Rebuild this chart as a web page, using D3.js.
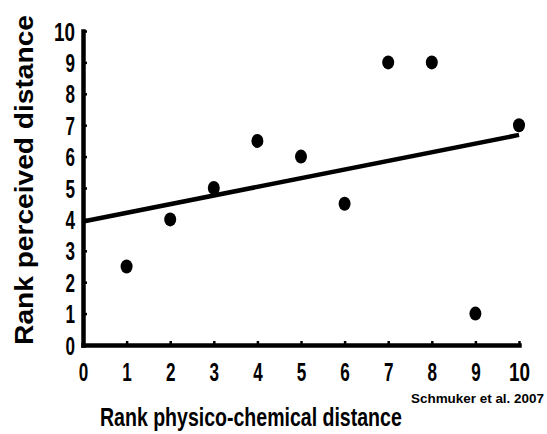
<!DOCTYPE html>
<html><head><meta charset="utf-8">
<script src="https://cdn.jsdelivr.net/npm/d3@7"></script>
<style>
html,body{margin:0;padding:0;background:#fff;}
svg{display:block;}
</style></head>
<body>
<svg id="c" width="547" height="434"></svg>
<script>
const xValues = [1, 2, 3, 4, 5, 6, 7, 8, 9, 10];
const yValues = [2.5, 4, 5, 6.5, 6, 4.5, 9, 9, 1, 7];
const xTicks = [0, 1, 2, 3, 4, 5, 6, 7, 8, 9, 10];
const yTicks = [0, 1, 2, 3, 4, 5, 6, 7, 8, 9, 10];
const xTitle = "Rank physico-chemical distance";
const yTitle = "Rank perceived distance";
const credit = "Schmuker et al. 2007";

const svg = d3.select("#c");
const x = d3.scaleLinear().domain([0, 10]).range([83, 519]);
const y = d3.scaleLinear().domain([0, 10]).range([345, 31]);
const FONT = "'Liberation Sans Narrow','Arial Narrow','Liberation Sans',Arial,sans-serif";

// fit a text horizontally to a target width via scaleX transform
function fit(sel, tx, ty, target, rot) {
  sel.each(function () {
    const n = this.getComputedTextLength();
    const s = target(this) / n;
    d3.select(this).attr("x", 0).attr("y", 0)
      .attr("transform", `translate(${tx},${ty})${rot ? " rotate(-90)" : ""} scale(${s},1)`);
  });
}

// axes
const gx = svg.append("g").attr("transform", `translate(0,${y(0)})`)
  .call(d3.axisBottom(x).tickValues(xTicks).tickSize(-4).tickPadding(0).tickSizeOuter(0));
const gy = svg.append("g").attr("transform", `translate(${x(0)},0)`)
  .call(d3.axisLeft(y).tickValues(yTicks).tickSize(-4).tickPadding(0).tickSizeOuter(0));

[gx, gy].forEach(g => {
  g.select(".domain").attr("stroke", "#000").attr("stroke-width", 4.5).attr("stroke-linecap", "square");
  g.selectAll(".tick line").attr("stroke", "#000").attr("stroke-width", 2.5);
  g.selectAll(".tick text").attr("fill", "#000")
    .style("font-family", FONT).style("font-weight", "bold").style("font-size", "25px");
});
const tw = el => el.textContent.length * 9.5 + (el.textContent.length > 1 ? 2 : 0);
gx.selectAll(".tick text").attr("dy", null);
fit(gx.selectAll(".tick text"), 0, 36, tw);
gy.selectAll(".tick text").attr("dy", "0.36em");
fit(gy.selectAll(".tick text"), -8, 0, tw);

// regression line from data
const mx = d3.mean(xValues), my = d3.mean(yValues);
const slope = d3.sum(xValues, (v, i) => (v - mx) * (yValues[i] - my)) / d3.sum(xValues, v => (v - mx) * (v - mx));
const icpt = my - slope * mx;
svg.append("line")
  .attr("x1", x(0)).attr("y1", y(icpt))
  .attr("x2", x(10)).attr("y2", y(icpt + slope * 10))
  .attr("stroke", "#000").attr("stroke-width", 4.5);

// points
svg.append("g").selectAll("ellipse").data(xValues).join("ellipse")
  .attr("cx", d => x(d)).attr("cy", (d, i) => y(yValues[i]))
  .attr("rx", 6).attr("ry", 7).attr("fill", "#000");

// titles
const xt = svg.append("text")
  .style("font-family", FONT).style("font-weight", "bold").style("font-size", "25px")
  .text(xTitle);
fit(xt, 100, 426, () => 302);
const ct = svg.append("text")
  .style("font-family", FONT).style("font-weight", "bold").style("font-size", "13px")
  .text(credit);
fit(ct, 411, 403, () => 133);
const yt = svg.append("text")
  .attr("text-anchor", "middle")
  .style("font-family", "'Liberation Sans',Arial,sans-serif").style("font-weight", "bold").style("font-size", "26px")
  .text(yTitle);
fit(yt, 33, 180, () => 330, true);
</script>
</body></html>
